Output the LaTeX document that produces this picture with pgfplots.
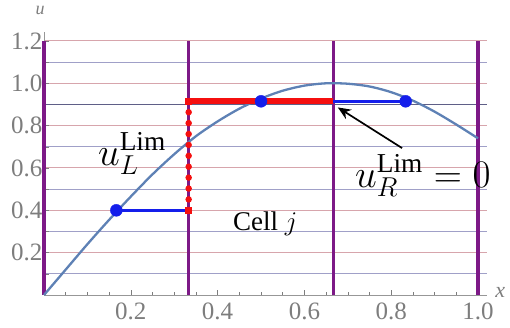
\RequirePackage{fix-cm}
\documentclass[border=0pt]{standalone}
\usepackage{fontspec}
\setmainfont{Liberation Serif}
\usepackage{pgfplots}
\pgfplotsset{compat=1.18}
\usetikzlibrary{arrows.meta}
\definecolor{purp}{RGB}{125,25,135}
\definecolor{curvec}{RGB}{94,129,181}
\definecolor{gridr}{RGB}{215,165,172}
\definecolor{gridb}{RGB}{160,160,200}
\definecolor{gridd}{RGB}{95,95,135}
\definecolor{myblue}{RGB}{20,30,235}
\definecolor{myred}{RGB}{245,15,15}
\definecolor{tickgray}{RGB}{125,125,125}
\begin{document}
\begin{tikzpicture}
\begin{axis}[
  scale only axis, width=442.7pt, height=262.5pt,
  xmin=0, xmax=1.02, ymin=0, ymax=1.24,
  axis lines*=left,
  axis line style={tickgray!80, line width=0.8pt},
  clip=false,
  xtick={0.2,0.4,0.6,0.8,1.0}, xticklabels={0.2,0.4,0.6,0.8,1.0},
  minor xtick={0.05,0.1,0.15,0.25,0.3,0.35,0.45,0.5,0.55,0.65,0.7,0.75,0.85,0.9,0.95},
  ytick={0.2,0.4,0.6,0.8,1.0,1.2}, yticklabels={0.2,0.4,0.6,0.8,1.0,1.2},
  tick align=inside,
  major tick length=5pt, minor tick length=3pt,
  tick style={tickgray, line width=0.6pt},
  ymajorgrids,
  major grid style={gridr, line width=1pt},
  extra y ticks={0.1,0.3,0.5,0.7,1.1},
  extra y tick labels={},
  extra y tick style={grid=major, major grid style={gridb, line width=1pt}},
  tick label style={font=\fontsize{25}{25}\selectfont, text=tickgray},
  xticklabel style={yshift=-4pt},
  yticklabel style={xshift=2pt},
  /pgf/number format/assume math mode=true,
]
% darker grid line at 0.9
\addplot[gridd, line width=1pt] coordinates {(0,0.9) (1.02,0.9)};
% cell boundaries
\addplot[purp, line width=3.5pt] coordinates {(0,0) (0,1.2)};
\addplot[purp, line width=3.5pt] coordinates {(0.33333,0) (0.33333,1.2)};
\addplot[purp, line width=3.5pt] coordinates {(0.66667,0) (0.66667,1.2)};
\addplot[purp, line width=3.5pt] coordinates {(1,0) (1,1.2)};
% function
\addplot[curvec, line width=2.3pt, smooth] coordinates {
(0,0) (0.05,0.12) (0.1,0.24) (0.15,0.355) (0.2,0.465) (0.25,0.57) (0.3,0.665)
(0.35,0.75) (0.4,0.82) (0.45,0.88) (0.5,0.928) (0.55,0.965) (0.6,0.989)
(0.65,1.0) (0.7,0.998) (0.75,0.985) (0.8,0.958) (0.85,0.918) (0.9,0.866)
(0.95,0.805) (1.0,0.74)};
% blue reconstruction pieces
\addplot[myblue, line width=3pt] coordinates {(0.16667,0.4) (0.33333,0.4)};
\addplot[myblue, line width=3pt] coordinates {(0.66667,0.915) (0.83333,0.915)};
% limited value
\addplot[myred, line width=6pt] coordinates {(0.33333,0.915) (0.66667,0.915)};
\addplot[myred, line width=6.5pt, line cap=round, dash pattern=on 0pt off 10.9pt] coordinates {(0.33333,0.4) (0.33333,0.915)};
\addplot[myred, only marks, mark=square*, mark size=3pt] coordinates {(0.33333,0.4) (0.33333,0.915)};
% cell averages
\addplot[myblue, only marks, mark=*, mark size=6pt] coordinates {(0.16667,0.4) (0.5,0.915) (0.83333,0.915)};
% annotations
\draw[-{Stealth[length=13pt,width=11pt]}, line width=1.7pt] (axis cs:0.825,0.694) -- (axis cs:0.677,0.886);
\node[anchor=base west, inner sep=0pt, font=\fontsize{39}{44}\selectfont] at (axis cs:0.124,0.614) {$u_L^{\mathrm{Lim}}$};
\node[anchor=base west, inner sep=0pt, font=\fontsize{39}{44}\selectfont] at (axis cs:0.7166,0.51) {$u_R^{\mathrm{Lim}}=0$};
\node[anchor=base west, inner sep=0pt, font=\fontsize{27}{31}\selectfont] at (axis cs:0.4355,0.307) {Cell $j$};
\node[anchor=base, inner sep=0pt, font=\fontsize{18}{18}\selectfont\itshape, text=tickgray] at (axis cs:-0.009,1.323) {u};
\node[anchor=base, inner sep=0pt, font=\fontsize{22}{22}\selectfont\itshape, text=tickgray] at (axis cs:1.051,-0.01) {x};
\end{axis}
\pgfresetboundingbox
\path[use as bounding box] (-44pt,-32pt) rectangle (466pt,295pt);
\end{tikzpicture}
\end{document}
